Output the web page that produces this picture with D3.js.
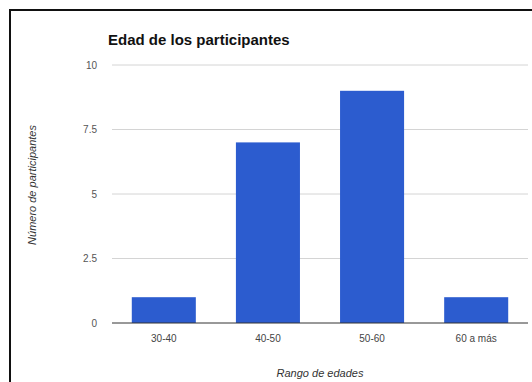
<!DOCTYPE html>
<html>
<head>
<meta charset="utf-8">
<script src="https://cdn.jsdelivr.net/npm/d3@7"></script>
<style>
  body { margin: 0; background: #fff; }
  text { font-family: Arial, "Liberation Sans", sans-serif; }
</style>
</head>
<body>
<div id="chart"></div>
<script>
// Edad de los participantes - bar chart

var categories = ["30-40", "40-50", "50-60", "60 a más"];
var values = [1, 7, 9, 1];
var yTicks = [0, 2.5, 5, 7.5, 10];

var W = 532, H = 382;
var margin = { left: 112, right: 4, top: 65, bottom: 59 };
var width = W - margin.left - margin.right;
var height = H - margin.top - margin.bottom;

var svg = d3.select("#chart")
  .append("svg")
  .attr("width", W)
  .attr("height", H);

svg.append("rect")
  .attr("width", W).attr("height", H)
  .attr("fill", "#fff");

// outer frame (cut off at right/bottom)
svg.append("rect")
  .attr("x", 10).attr("y", 10)
  .attr("width", W + 20).attr("height", H + 20)
  .attr("fill", "none")
  .attr("stroke", "#111")
  .attr("stroke-width", 2);

var g = svg.append("g")
  .attr("transform", "translate(" + margin.left + "," + margin.top + ")");

var x = d3.scaleBand()
  .domain(categories)
  .range([0, width])
  .paddingInner(0.385)
  .paddingOuter(0.19);

var y = d3.scaleLinear()
  .domain([0, 10])
  .range([height, 0]);

// gridlines
g.append("g")
  .selectAll("line")
  .data(yTicks.slice(1))
  .enter()
  .append("line")
  .attr("x1", 0)
  .attr("x2", width)
  .attr("y1", d => y(d))
  .attr("y2", d => y(d))
  .attr("stroke", "#d4d4d4")
  .attr("stroke-width", 1);

// y tick labels
g.append("g")
  .selectAll("text")
  .data(yTicks)
  .enter()
  .append("text")
  .attr("x", -15)
  .attr("y", d => y(d))
  .attr("dy", "0.35em")
  .attr("text-anchor", "end")
  .attr("font-size", "10px")
  .attr("fill", "#555")
  .text(d => d3.format("")(d));

// bars
g.selectAll(".bar")
  .data(values)
  .enter()
  .append("rect")
  .attr("class", "bar")
  .attr("x", (d, i) => x(categories[i]))
  .attr("y", d => y(d))
  .attr("width", x.bandwidth())
  .attr("height", d => height - y(d))
  .attr("fill", "#2c5ccf");

// baseline
g.append("line")
  .attr("x1", 0)
  .attr("x2", width)
  .attr("y1", y(0))
  .attr("y2", y(0))
  .attr("stroke", "#333")
  .attr("stroke-width", 1);

// x tick labels
g.append("g")
  .selectAll("text")
  .data(categories)
  .enter()
  .append("text")
  .attr("x", d => x(d) + x.bandwidth() / 2)
  .attr("y", height + 19)
  .attr("text-anchor", "middle")
  .attr("font-size", "10px")
  .attr("fill", "#444")
  .text(d => d);

// title
svg.append("text")
  .attr("x", 108)
  .attr("y", 45)
  .attr("font-size", "15px")
  .attr("font-weight", "bold")
  .attr("fill", "#111")
  .text("Edad de los participantes");

// axis titles
svg.append("text")
  .attr("x", 320)
  .attr("y", 377)
  .attr("text-anchor", "middle")
  .attr("font-size", "11px")
  .attr("font-style", "italic")
  .attr("fill", "#333")
  .text("Rango de edades");

svg.append("text")
  .attr("transform", "translate(36,185) rotate(-90)")
  .attr("text-anchor", "middle")
  .attr("font-size", "11px")
  .attr("font-style", "italic")
  .attr("fill", "#333")
  .text("Número de participantes");
</script>
</body>
</html>
